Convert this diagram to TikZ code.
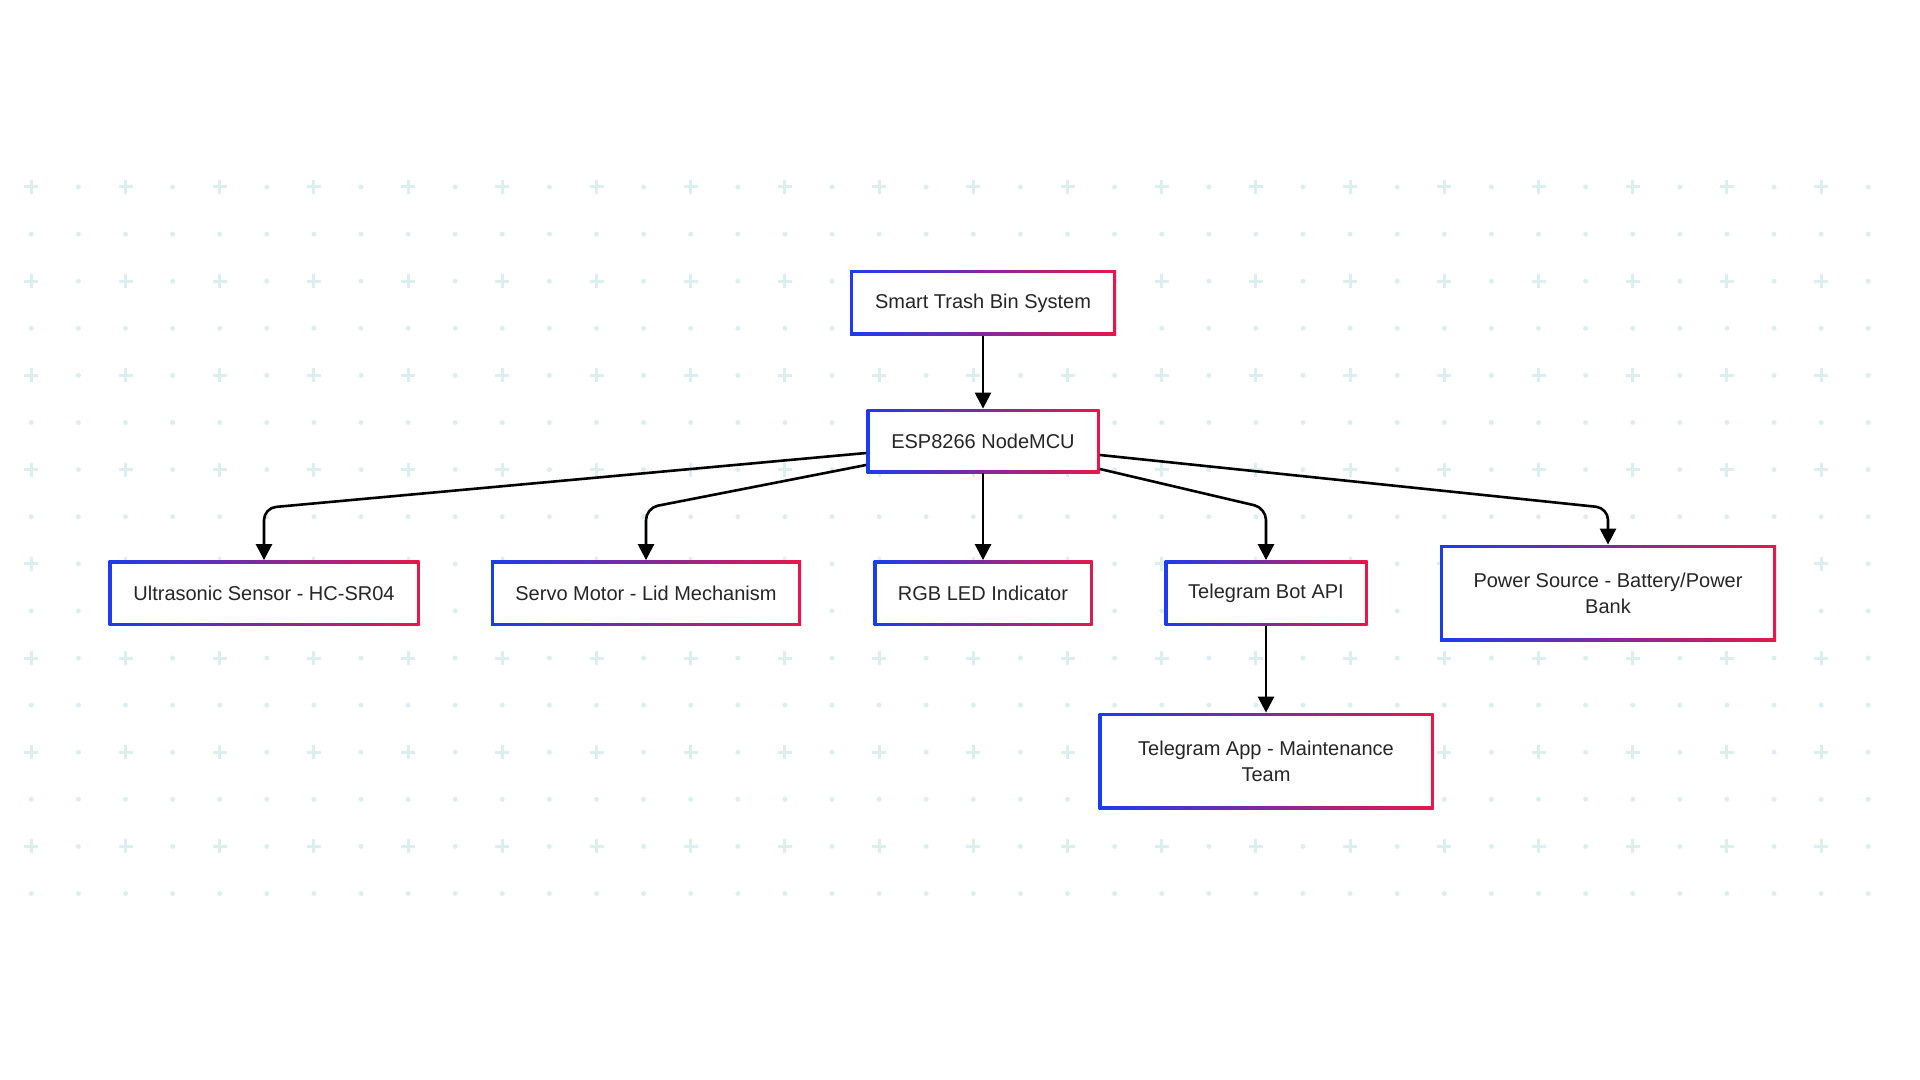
\documentclass[tikz,border=0pt]{standalone}
\usepackage{fontspec}
\setmainfont{Liberation Sans}
\usetikzlibrary{arrows.meta}
\definecolor{bblue}{HTML}{1A3CF0}
\definecolor{bred}{HTML}{E8174A}
\definecolor{dotc}{HTML}{DCEFF0}
\tikzset{
  box/.style={rectangle, shading=axis, left color=bblue, right color=bred, shading angle=90,
    align=center, font=\fontsize{10}{13}\selectfont, text=black!85,
    path picture={\fill[white] ([shift={(1.5pt,-1.5pt)}]path picture bounding box.north west)
      rectangle ([shift={(-1.5pt,1.5pt)}]path picture bounding box.south east);}},
  arr/.style={-{Triangle[length=8pt,width=8pt]}, line width=1.3pt, rounded corners=6pt}
}
\begin{document}
\begin{tikzpicture}[x=0.5pt,y=-0.5pt]
\useasboundingbox (0,0) rectangle (1920,1080);
% background grid
\foreach \j in {0,...,15}{
  \foreach \k in {0,...,39}{
    \pgfmathsetmacro{\px}{31.3+47.1*\k}
    \pgfmathsetmacro{\py}{187+47.1*\j}
    \pgfmathparse{int(mod(\j,2)+mod(\k,2))}
    \ifnum\pgfmathresult=0
      \draw[dotc, line width=1.5pt] (\px-7,\py) -- (\px+7,\py) (\px,\py-7) -- (\px,\py+7);
    \else
      \fill[dotc] (\px,\py) circle (2.5);
    \fi
  }
}
% boxes
\node[box, minimum width=133pt, minimum height=32.5pt] (sys) at (983,303) {Smart Trash Bin System};
\node[box, minimum width=116.5pt, minimum height=32pt] (esp) at (983,441) {ESP8266 NodeMCU};
\node[box, minimum width=155.5pt, minimum height=32.5pt] (ultra) at (264,593) {Ultrasonic Sensor - HC-SR04};
\node[box, minimum width=155pt, minimum height=32.5pt] (servo) at (646,593) {Servo Motor - Lid Mechanism};
\node[box, minimum width=109.5pt, minimum height=32.5pt] (rgb) at (983,593) {RGB LED Indicator};
\node[box, minimum width=101.5pt, minimum height=32.5pt] (bot) at (1266,593) {Telegram Bot API};
\node[box, minimum width=168pt, minimum height=48pt] (power) at (1608,593) {Power Source - Battery/Power\\Bank};
\node[box, minimum width=167.5pt, minimum height=48pt] (app) at (1266,761) {Telegram App - Maintenance\\Team};
% connectors
\coordinate (bend) at (0,508);
\draw[arr] (sys) -- (esp);
\draw[arr] ([yshift=-6pt]esp.west) -- (ultra.north |- bend) -- (ultra.north);
\draw[arr] ([yshift=-12pt]esp.west) -- (servo.north |- bend) -- (servo.north);
\draw[arr] (esp) -- (rgb);
\draw[arr] ([yshift=-14pt]esp.east) -- (bot.north |- bend) -- (bot.north);
\draw[arr] ([yshift=-7pt]esp.east) -- (power.north |- bend) -- (power.north);
\draw[arr] (bot) -- (app);
\end{tikzpicture}
\end{document}
